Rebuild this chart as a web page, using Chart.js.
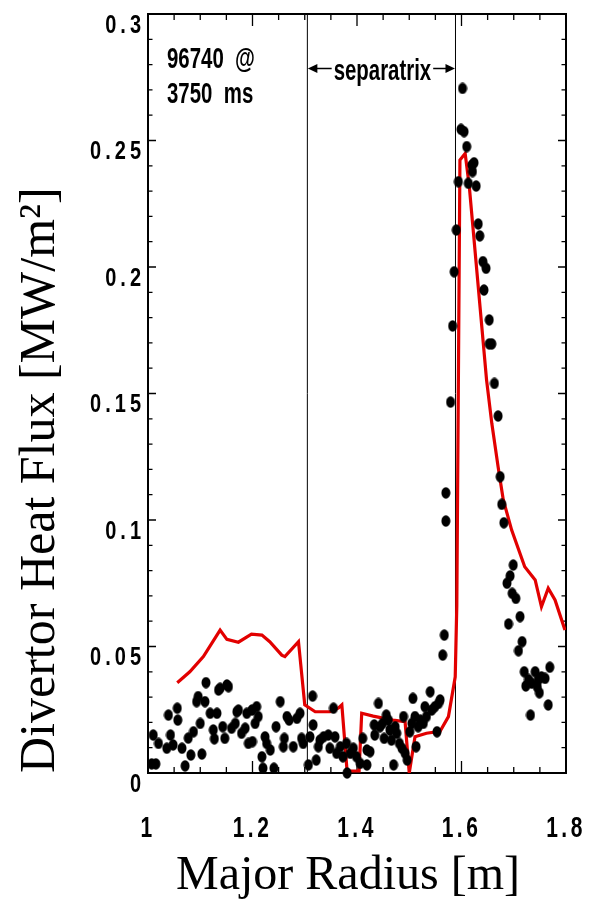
<!DOCTYPE html>
<html>
<head>
<meta charset="utf-8">
<script src="https://cdn.jsdelivr.net/npm/chart.js@4.4.0/dist/chart.umd.min.js"></script>
<style>
  html, body { margin: 0; padding: 0; background: #fff; }
  canvas { display: block; }
</style>
</head>
<body>
<canvas id="c" width="590" height="901"></canvas>
<script>
// Measured divertor heat flux (IR camera), radius in m, flux in MW/m^2
const measR = [
  1.007, 1.015, 1.010, 1.020, 1.036, 1.039, 1.043, 1.048, 1.056, 1.057,
  1.065, 1.071, 1.077, 1.082, 1.087, 1.093, 1.096, 1.100, 1.103, 1.109,
  1.111, 1.119, 1.125, 1.127, 1.132, 1.135, 1.138, 1.143, 1.147, 1.151,
  1.154, 1.160, 1.167, 1.170, 1.173, 1.179, 1.186, 1.189, 1.192,
  1.199, 1.205, 1.208, 1.200, 1.211, 1.218, 1.220, 1.224, 1.227, 1.234,
  1.241, 1.245, 1.253, 1.259, 1.261, 1.266, 1.270, 1.278, 1.285, 1.291,
  1.294, 1.297, 1.307, 1.310, 1.315, 1.316, 1.322, 1.326, 1.329, 1.336,
  1.345, 1.348, 1.355, 1.358, 1.361, 1.368, 1.373, 1.380, 1.381, 1.387,
  1.393, 1.399, 1.406, 1.411, 1.419,
  1.419, 1.425, 1.433, 1.434, 1.441, 1.444, 1.449, 1.452, 1.456, 1.460,
  1.463, 1.466, 1.470, 1.473, 1.476, 1.481, 1.486, 1.489, 1.492, 1.496,
  1.501, 1.505, 1.507, 1.511, 1.513, 1.517, 1.521, 1.527, 1.530, 1.533,
  1.540, 1.543, 1.549, 1.553, 1.556, 1.559, 1.564, 1.567,
  1.570, 1.570, 1.579, 1.583, 1.586, 1.590, 1.594, 1.599, 1.602, 1.605,
  1.610, 1.613, 1.620, 1.621, 1.624, 1.628, 1.632, 1.635, 1.641, 1.643,
  1.647, 1.653, 1.653, 1.658, 1.663,
  1.670, 1.674, 1.677, 1.681, 1.687, 1.690, 1.693, 1.697, 1.699, 1.704,
  1.709, 1.712, 1.716, 1.720, 1.723, 1.728, 1.732, 1.734, 1.741, 1.745,
  1.747, 1.749, 1.753, 1.760, 1.766, 1.769
];
const measQ = [
  0.0036, 0.0036, 0.0150, 0.0117, 0.0098, 0.0229, 0.0150, 0.0111, 0.0256, 0.0209,
  0.0098, 0.0028, 0.0138, 0.0071, 0.0163, 0.0282, 0.0302, 0.0196, 0.0075, 0.0282,
  0.0357, 0.0236, 0.0170, 0.0135, 0.0236, 0.0328, 0.0335, 0.0183, 0.0137, 0.0348,
  0.0341, 0.0177, 0.0196, 0.0242, 0.0249, 0.0157, 0.0177, 0.0236, 0.0117,
  0.0249, 0.0196, 0.0262, 0.0124, 0.0223, 0.0064, 0.0019, 0.0143, 0.0117, 0.0091,
  0.0019, 0.0183, 0.0282, 0.0104, 0.0137, 0.0223, 0.0209, 0.0104, 0.0216, 0.0236,
  0.0137, 0.0117, 0.0032, 0.0143, 0.0304, 0.0190, 0.0051, 0.0104, 0.0130, 0.0143,
  0.0150, 0.0098, 0.0256, 0.0143, 0.0078, 0.0104, 0.0064, 0.0117, 0.0000, 0.0078,
  0.0098, 0.0064, 0.0038, 0.0137, 0.0091,
  0.0032, 0.0084, 0.0190, 0.0150, 0.0275, 0.0183, 0.0196, 0.0137, 0.0229, 0.0209,
  0.0170, 0.0130, 0.0032, 0.0183, 0.0157, 0.0117, 0.0098, 0.0223, 0.0078, 0.0051,
  0.0163, 0.0196, 0.0295, 0.0223, 0.0104, 0.0183, 0.0209, 0.0196, 0.0262, 0.0223,
  0.0321, 0.0249, 0.0262, 0.0163, 0.0275, 0.0289, 0.0466, 0.0545,
  0.0996, 0.1107, 0.1466, 0.1767, 0.1981, 0.2146, 0.2337, 0.2544, 0.2706, 0.2535,
  0.2476, 0.2331, 0.2403, 0.2377, 0.2412, 0.2320, 0.2170, 0.2123, 0.2021, 0.1909,
  0.1995, 0.1791, 0.1696, 0.1696, 0.1540,
  0.1411, 0.1171, 0.1062, 0.0989, 0.0750, 0.0589, 0.0779, 0.0710, 0.0822, 0.0690,
  0.0483, 0.0618, 0.0519, 0.0400, 0.0344, 0.0370, 0.0229, 0.0355, 0.0400, 0.0340,
  0.0368, 0.0317, 0.0380, 0.0374, 0.0269, 0.0418
];

// Modelled heat flux profile (red curve)
const modelR = [
  1.056, 1.080, 1.106, 1.138, 1.151, 1.173, 1.198, 1.218, 1.233, 1.256,
  1.262, 1.288, 1.300, 1.320, 1.348, 1.364, 1.371, 1.381, 1.404, 1.409,
  1.431, 1.469, 1.492, 1.500, 1.511, 1.533, 1.559, 1.575, 1.588, 1.591,
  1.597, 1.607, 1.615, 1.648, 1.658, 1.670, 1.680, 1.696, 1.721, 1.741,
  1.753, 1.766, 1.779, 1.798
];
const modelQ = [
  0.0357, 0.0400, 0.0460, 0.0565, 0.0528, 0.0517, 0.0549, 0.0545, 0.0519, 0.0466,
  0.0460, 0.0519, 0.0269, 0.0242, 0.0242, 0.0256, 0.0269, 0.0008, 0.0008, 0.0236,
  0.0225, 0.0209, 0.0203, 0.0000, 0.0143, 0.0157, 0.0165, 0.0223, 0.0380, 0.0660,
  0.2423, 0.2449, 0.2317, 0.1553, 0.1382, 0.1211, 0.1079, 0.0960, 0.0815, 0.0763,
  0.0657, 0.0730, 0.0684, 0.0565
];

// Separatrix strike points (m)
const separatrixR = [1.305, 1.5885];

// Axis tick labels
const xTicks = [1, 1.2, 1.4, 1.6, 1.8];
const yTicks = [0, 0.05, 0.1, 0.15, 0.2, 0.25, 0.3];

const shotLines = ['96740  @', '3750  ms'];
const sepText = 'separatrix';

const sansBold = "'Liberation Sans Narrow', 'Liberation Sans', Arial, sans-serif";
const serif = "'Liberation Serif', 'Times New Roman', serif";
const NARROW = 0.68;   // horizontal squeeze for the annotation lettering

// Elliptical marker used for the measured points
function makeDot() {
  const c = document.createElement('canvas');
  c.width = 10; c.height = 12;
  const g = c.getContext('2d');
  g.fillStyle = '#000';
  g.beginPath();
  g.ellipse(5, 6, 4.5, 5.8, 0, 0, Math.PI * 2);
  g.fill();
  return c;
}
const dot = makeDot();

function condensedText(ctx, text, x, y, align, size) {
  ctx.save();
  ctx.translate(x, y);
  ctx.scale(NARROW, 1);
  ctx.font = 'bold ' + size + 'px ' + sansBold;
  ctx.textAlign = align;
  ctx.textBaseline = 'alphabetic';
  ctx.fillStyle = '#000';
  ctx.fillText(text, 0, 0);
  ctx.restore();
}

// Tick numerals are drawn condensed: each label gets a maxWidth below its natural width
function squeezeLabels(scale, factor) {
  if (scale.$squeezed) return;
  scale.$squeezed = true;
  const orig = scale.getLabelItems;
  scale.getLabelItems = function (area) {
    const items = orig.call(this, area);
    const ctx = this.ctx;
    ctx.save();
    for (const it of items) {
      ctx.font = it.font.string;
      it.options.maxWidth = ctx.measureText(String(it.label)).width * factor;
    }
    ctx.restore();
    return items;
  };
}

// Shift the x-axis title slightly left of the plot centre
function shiftTitle(scale, dx) {
  if (scale.$titleShifted) return;
  scale.$titleShifted = true;
  const orig = scale.drawTitle;
  scale.drawTitle = function () {
    this.ctx.save();
    this.ctx.translate(dx, 0);
    orig.call(this);
    this.ctx.restore();
  };
}

// Frame with inward tick marks on all four sides, plus text annotations
const framePlugin = {
  id: 'framePlugin',
  beforeDraw(chart) {
    squeezeLabels(chart.scales.x, 0.70);
    squeezeLabels(chart.scales.y, 0.80);
    shiftTitle(chart.scales.x, -9);
  },
  beforeDatasetsDraw(chart) {
    const { ctx, chartArea: a, scales: { x, y } } = chart;
    ctx.save();
    ctx.strokeStyle = '#000';
    ctx.lineWidth = 1.3;
    ctx.beginPath();
    for (let i = 0; i <= 16; i++) {
      const px = x.getPixelForValue(1 + i * 0.05);
      const len = i % 4 === 0 ? 12 : 6;
      ctx.moveTo(px, a.bottom); ctx.lineTo(px, a.bottom - len);
      ctx.moveTo(px, a.top); ctx.lineTo(px, a.top + len);
    }
    for (let i = 0; i <= 30; i++) {
      const py = y.getPixelForValue(i * 0.01);
      const len = i % 5 === 0 ? 8 : 4.5;
      ctx.moveTo(a.left, py); ctx.lineTo(a.left + len, py);
      ctx.moveTo(a.right, py); ctx.lineTo(a.right - len, py);
    }
    ctx.stroke();
    ctx.lineWidth = 2;
    ctx.strokeRect(a.left, a.top, a.right - a.left, a.bottom - a.top);
    ctx.restore();
  },
  afterDatasetsDraw(chart) {
    const { ctx, scales: { x, y } } = chart;
    ctx.save();
    // shot / time label
    condensedText(ctx, shotLines[0], x.getPixelForValue(1.0364), y.getPixelForValue(0.2785), 'left', 30);
    condensedText(ctx, shotLines[1], x.getPixelForValue(1.0364), y.getPixelForValue(0.2647), 'left', 30);

    // separatrix label with arrows between the two strike points
    const xl = x.getPixelForValue(separatrixR[0]);
    const xr = x.getPixelForValue(separatrixR[1]);
    const xc = (xl + xr) / 2 + 1;
    const ty = y.getPixelForValue(0.2739);
    const ay = y.getPixelForValue(0.2785);
    ctx.font = 'bold 30px ' + sansBold;
    const w = ctx.measureText(sepText).width * NARROW;
    condensedText(ctx, sepText, xc, ty, 'center', 30);
    ctx.strokeStyle = '#000';
    ctx.fillStyle = '#000';
    ctx.lineWidth = 1.5;
    ctx.beginPath();
    ctx.moveTo(xl + 8, ay); ctx.lineTo(xc - w / 2 - 2, ay);
    ctx.moveTo(xc + w / 2 + 2, ay); ctx.lineTo(xr - 8, ay);
    ctx.stroke();
    ctx.beginPath();
    ctx.moveTo(xl + 0.5, ay); ctx.lineTo(xl + 10, ay - 4.5); ctx.lineTo(xl + 10, ay + 4.5); ctx.closePath();
    ctx.moveTo(xr - 0.5, ay); ctx.lineTo(xr - 10, ay - 4.5); ctx.lineTo(xr - 10, ay + 4.5); ctx.closePath();
    ctx.fill();
    ctx.restore();
    // spaced-out tick numerals (tick labels are drawn after this hook)
    ctx.letterSpacing = '5px';
  },
  afterDraw(chart) {
    chart.ctx.letterSpacing = '0px';
  }
};

const sepLines = separatrixR.map(r => ({
  type: 'line',
  data: [{ x: r, y: 0 }, { x: r, y: 0.3 }],
  borderColor: '#000',
  borderWidth: 1,
  pointRadius: 0,
  clip: false
}));

new Chart(document.getElementById('c'), {
  type: 'scatter',
  data: {
    datasets: [
      {
        type: 'scatter',
        data: measR.map((r, i) => ({ x: r, y: measQ[i] })),
        pointStyle: dot,
        pointRadius: 5,
        backgroundColor: '#000',
        borderColor: '#000',
        clip: false
      },
      {
        type: 'line',
        data: modelR.map((r, i) => ({ x: r, y: modelQ[i] })),
        borderColor: 'rgb(226,0,0)',
        borderWidth: 3.2,
        pointRadius: 0,
        tension: 0,
        fill: false
      },
      ...sepLines
    ]
  },
  options: {
    responsive: false,
    animation: false,
    devicePixelRatio: 1,
    layout: { padding: { top: 14, right: 24, left: 0, bottom: 0 } },
    plugins: { legend: { display: false }, tooltip: { enabled: false } },
    scales: {
      x: {
        type: 'linear',
        min: 1,
        max: 1.8,
        afterBuildTicks: s => { s.ticks = xTicks.map(v => ({ value: v })); },
        afterFit: s => { s.height = 128; s.paddingLeft = 0; s.paddingRight = 0; },
        grid: { display: false, drawTicks: false },
        border: { display: false },
        ticks: {
          z: 1,
          autoSkip: false,
          maxRotation: 0,
          padding: 38,
          color: '#000',
          font: { family: sansBold, size: 30, weight: 'bold' },
          callback: v => String(v)
        },
        title: {
          display: true,
          text: 'Major Radius [m]',
          color: '#000',
          font: { family: serif, size: 48, weight: 'normal' },
          padding: { top: 0, bottom: -4 }
        }
      },
      y: {
        type: 'linear',
        min: 0,
        max: 0.3,
        afterBuildTicks: s => { s.ticks = yTicks.map(v => ({ value: v })); },
        afterFit: s => { s.width = 148; s.paddingTop = 0; s.paddingBottom = 0; },
        grid: { display: false, drawTicks: false },
        border: { display: false },
        ticks: {
          z: 1,
          autoSkip: false,
          padding: 3,
          labelOffset: 12,
          color: '#000',
          font: { family: sansBold, size: 25, weight: 'bold' },
          callback: v => String(v)
        },
        title: {
          display: true,
          text: 'Divertor Heat Flux [MW/m²]',
          align: 'start',
          color: '#000',
          font: { family: serif, size: 50, weight: 'normal' },
          padding: { top: 11, bottom: 0 }
        }
      }
    }
  },
  plugins: [framePlugin]
});
</script>
</body>
</html>
